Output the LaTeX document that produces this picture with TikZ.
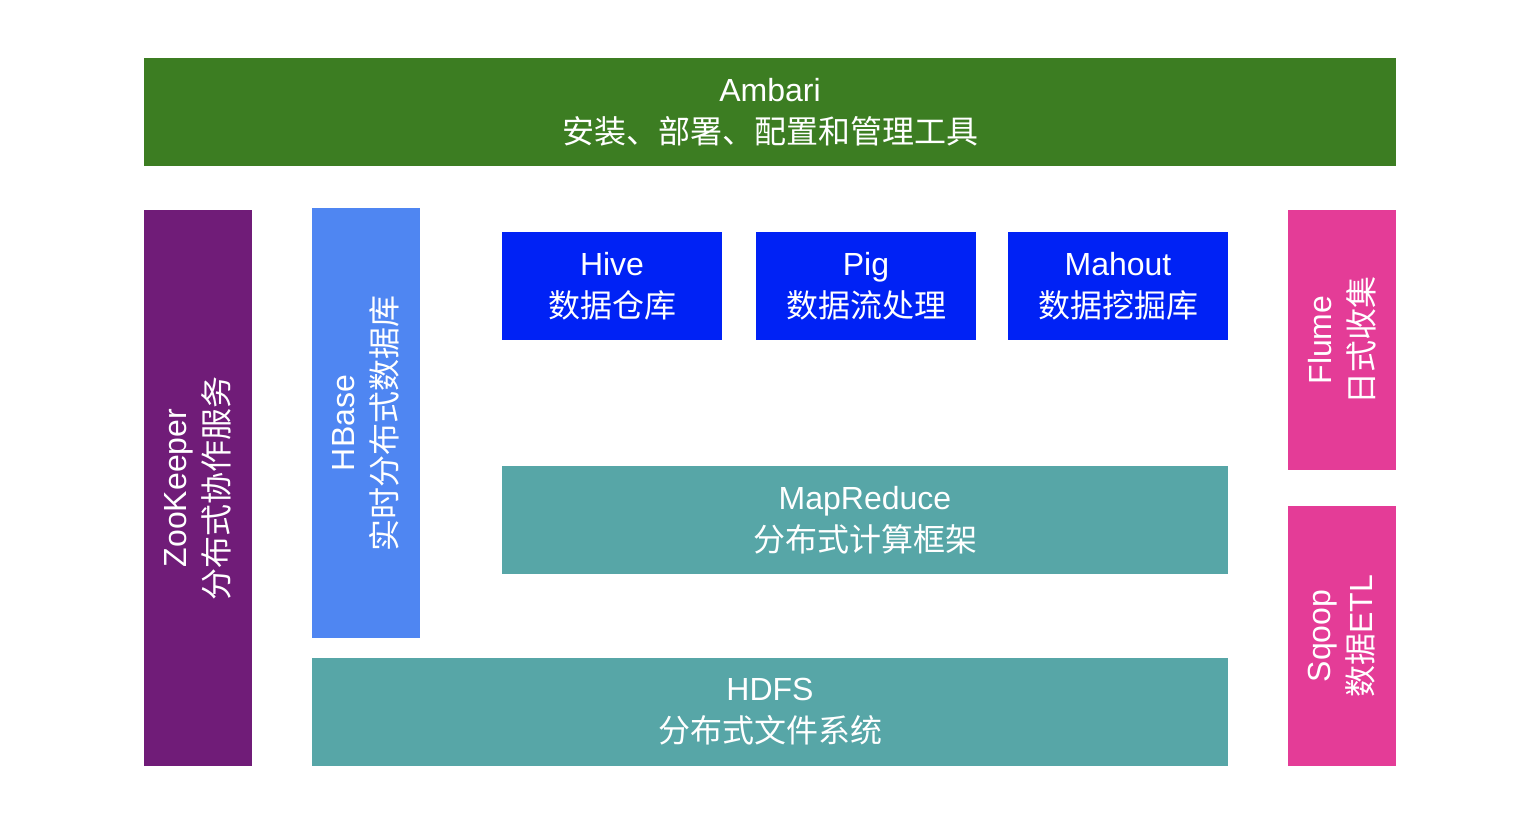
\documentclass[tikz,border=0pt]{standalone}
\usepackage{fontspec}
\setmainfont{Liberation Sans}
\newfontfamily\cjk{Noto Sans CJK SC}
\definecolor{cgreen}{HTML}{3C7D22}
\definecolor{cpurple}{HTML}{701C78}
\definecolor{clblue}{HTML}{4F86F2}
\definecolor{cblue}{HTML}{0022F5}
\definecolor{cpink}{HTML}{E43C97}
\definecolor{cteal}{HTML}{57A6A7}
\begin{document}
\begin{tikzpicture}[x=1pt,y=-1pt,
  blk/.style={draw=none,inner sep=0pt,outer sep=0pt,align=center,text=white,
    font=\fontsize{32}{42}\selectfont},
  ]
\useasboundingbox (0,0) rectangle (1536,814);
\node[blk,fill=cgreen,minimum width=1252pt,minimum height=108pt] (ambari) at (770,112)
  {Ambari\\{\cjk 安装、部署、配置和管理工具}};
\node[blk,fill=cpurple,rotate=90,minimum width=556pt,minimum height=108pt] (zk) at (198,488)
  {ZooKeeper\\{\cjk 分布式协作服务}};
\node[blk,fill=clblue,rotate=90,minimum width=430pt,minimum height=108pt] (hbase) at (366,423)
  {HBase\\{\cjk 实时分布式数据库}};
\node[blk,fill=cblue,minimum width=220pt,minimum height=108pt] (hive) at (612,286)
  {Hive\\{\cjk 数据仓库}};
\node[blk,fill=cblue,minimum width=220pt,minimum height=108pt] (pig) at (866,286)
  {Pig\\{\cjk 数据流处理}};
\node[blk,fill=cblue,minimum width=220pt,minimum height=108pt] (mahout) at (1118,286)
  {Mahout\\{\cjk 数据挖掘库}};
\node[blk,fill=cpink,rotate=90,minimum width=260pt,minimum height=108pt] (flume) at (1342,340)
  {Flume\\{\cjk 日式收集}};
\node[blk,fill=cpink,rotate=90,minimum width=260pt,minimum height=108pt] (sqoop) at (1342,636)
  {Sqoop\\{\cjk 数据}ETL};
\node[blk,fill=cteal,minimum width=726pt,minimum height=108pt] (mr) at (865,520)
  {MapReduce\\{\cjk 分布式计算框架}};
\node[blk,fill=cteal,minimum width=916pt,minimum height=108pt] (hdfs) at (770,712)
  {HDFS\\{\cjk 分布式文件系统}};
\end{tikzpicture}
\end{document}
